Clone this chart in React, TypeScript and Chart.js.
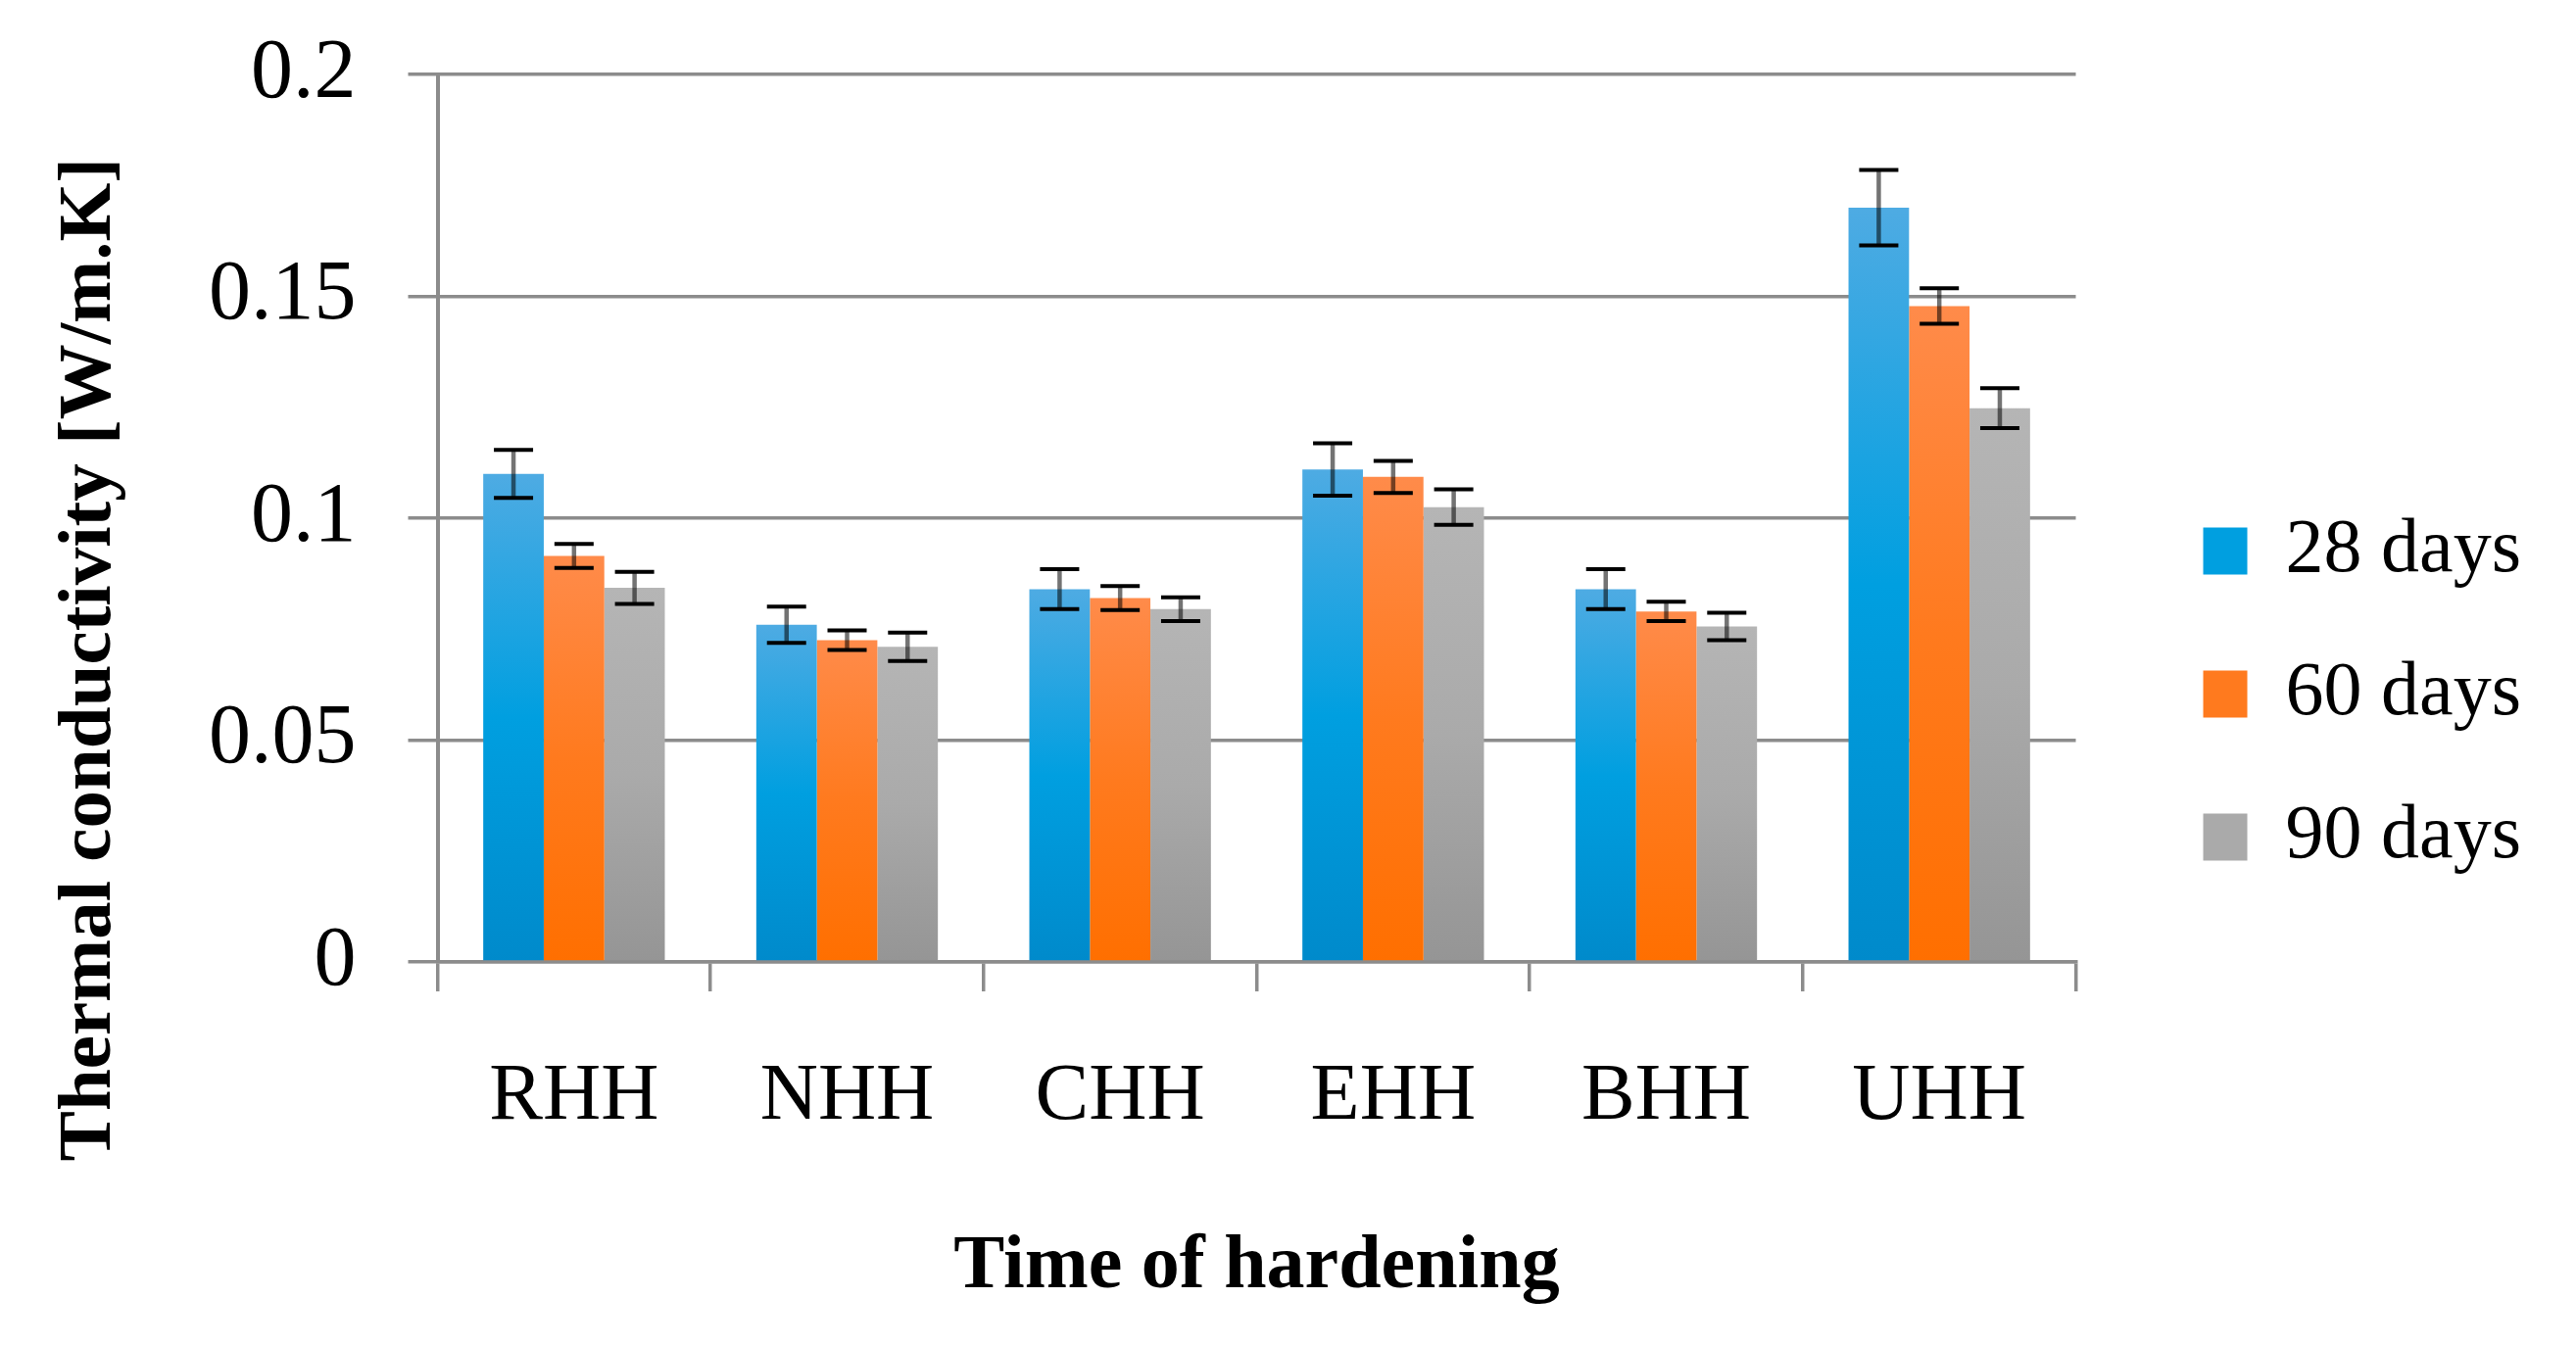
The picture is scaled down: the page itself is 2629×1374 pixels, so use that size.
import { useEffect, useRef } from "react"
import { Chart, registerables } from "chart.js"

Chart.register(...registerables)

const categories = ["RHH", "NHH", "CHH", "EHH", "BHH", "UHH"]
const seriesNames = ["28 days", "60 days", "90 days"]

// mean values [W/m.K]
const days28 = [0.11, 0.076, 0.084, 0.111, 0.084, 0.17]
const days60 = [0.0915, 0.0725, 0.082, 0.1093, 0.079, 0.1478]
const days90 = [0.0843, 0.071, 0.0795, 0.1025, 0.0756, 0.1248]

// +/- error
const err28 = [0.0054, 0.0041, 0.0045, 0.0059, 0.0045, 0.0085]
const err60 = [0.0027, 0.0022, 0.0027, 0.0036, 0.0022, 0.004]
const err90 = [0.0036, 0.0032, 0.0027, 0.004, 0.0031, 0.0045]

const yTicks = [0, 0.05, 0.1, 0.15, 0.2]

const X_TITLE = "Time of hardening"
const Y_TITLE = "Thermal conductivity [W/m.K]"

const FONT = "'Liberation Serif', 'Times New Roman', serif"
const GRID = "#8c8c8c"

const blueStops: [number, string][] = [[0, "#4eabe3"], [0.5, "#009fe0"], [1, "#008acb"]]
const orangeStops: [number, string][] = [[0, "#ff8b4a"], [0.5, "#ff7a1e"], [1, "#ff6f00"]]
const grayStops: [number, string][] = [[0, "#b5b5b5"], [0.5, "#aaaaaa"], [1, "#959595"]]

// vertical gradient per bar, from its top down to the baseline
const barFill = (stops: [number, string][]) => (c: any) => {
  const chart = c.chart
  const y = chart.scales?.y
  if (c.type !== "data" || !y || !chart.chartArea || typeof c.raw !== "number") return stops[1][1]
  const top = y.getPixelForValue(c.raw)
  const base = y.getPixelForValue(0)
  if (!isFinite(top) || !isFinite(base) || top === base) return stops[1][1]
  const g = chart.ctx.createLinearGradient(0, top, 0, base)
  stops.forEach(([o, col]) => g.addColorStop(o, col))
  return g
}

const errors = [err28, err60, err90]

const errorBars = {
  id: "errorBars",
  afterDatasetsDraw(chart: any) {
    const { ctx } = chart
    const y = chart.scales.y
    chart.data.datasets.forEach((ds: any, i: number) => {
      const meta = chart.getDatasetMeta(i)
      meta.data.forEach((bar: any, j: number) => {
        const v = ds.data[j]
        const e = errors[i][j]
        const hi = y.getPixelForValue(v + e)
        const lo = y.getPixelForValue(v - e)
        ctx.save()
        ctx.lineWidth = 4.5
        ctx.strokeStyle = "rgba(0, 0, 0, 0.55)"
        ctx.beginPath()
        ctx.moveTo(bar.x, hi)
        ctx.lineTo(bar.x, lo)
        ctx.stroke()
        ctx.lineWidth = 4
        ctx.strokeStyle = "#000"
        ctx.beginPath()
        ctx.moveTo(bar.x - 20, hi)
        ctx.lineTo(bar.x + 20, hi)
        ctx.moveTo(bar.x - 20, lo)
        ctx.lineTo(bar.x + 20, lo)
        ctx.stroke()
        ctx.restore()
      })
    })
  },
}

// y title sits lower than the plot centre in the original
const yTitle = {
  id: "yTitle",
  afterDraw(chart: any) {
    const { ctx } = chart
    ctx.save()
    ctx.translate(92, chart.height * 0.49)
    ctx.rotate(-Math.PI / 2)
    ctx.font = `bold 77px ${FONT}`
    ctx.fillStyle = "#000"
    ctx.textAlign = "center"
    ctx.textBaseline = "middle"
    ctx.fillText(Y_TITLE, 0, 0)
    ctx.restore()
  },
}

function ConductivityChart() {
  const chartRef = useRef<HTMLCanvasElement>(null)
  const chartInstance = useRef<Chart | null>(null)

  useEffect(() => {
    if (!chartRef.current) return
    if (chartInstance.current) chartInstance.current.destroy()

    const solid = [blueStops[1][1], orangeStops[1][1], grayStops[1][1]]

    chartInstance.current = new Chart(chartRef.current, {
      type: "bar",
      data: {
        labels: categories,
        datasets: [
          { label: seriesNames[0], data: days28, backgroundColor: barFill(blueStops) },
          { label: seriesNames[1], data: days60, backgroundColor: barFill(orangeStops) },
          { label: seriesNames[2], data: days90, backgroundColor: barFill(grayStops) },
        ],
      },
      options: {
        animation: false,
        responsive: true,
        maintainAspectRatio: false,
        devicePixelRatio: 1,
        layout: { padding: { left: 160, top: 76, right: 46, bottom: 33 } },
        datasets: {
          bar: { categoryPercentage: 0.665, barPercentage: 1, borderWidth: 0 },
        },
        scales: {
          x: {
            offset: true,
            grid: {
              offset: true,
              drawOnChartArea: false,
              drawTicks: true,
              tickLength: 30,
              color: GRID,
              lineWidth: 3.5,
            },
            border: { display: true, color: GRID, width: 3.5 },
            ticks: {
              color: "#000",
              font: { family: FONT, size: 82 },
              padding: 59,
              maxRotation: 0,
              autoSkip: false,
            },
            title: {
              display: true,
              text: X_TITLE,
              color: "#000",
              font: { family: FONT, size: 78, weight: "bold" },
              padding: { top: 19, bottom: 0 },
            },
          },
          y: {
            min: 0,
            max: 0.2,
            afterBuildTicks: (s: any) => {
              s.ticks = yTicks.map((v) => ({ value: v }))
            },
            grid: { color: GRID, lineWidth: 3.5, tickLength: 30, drawTicks: true },
            border: { display: true, color: GRID, width: 4 },
            ticks: {
              color: "#000",
              font: { family: FONT, size: 86, lineHeight: 0.5 },
              padding: 53,
              callback: (v: any) => String(Number(Number(v).toFixed(2))),
            },
          },
          gap: {
            type: "linear",
            position: "right",
            display: true,
            grid: { display: false },
            border: { display: false },
            ticks: { display: false },
            afterFit: (s: any) => {
              s.width = 62
            },
          },
        },
        plugins: {
          legend: {
            position: "right",
            labels: {
              color: "#000",
              font: { family: FONT, size: 78 },
              boxWidth: 45,
              boxHeight: 48,
              padding: 68,
              generateLabels: (chart: any) =>
                Chart.defaults.plugins.legend.labels
                  .generateLabels(chart)
                  .map((item: any, i: number) => ({ ...item, fillStyle: solid[i], lineWidth: 0, strokeStyle: "transparent" })),
            },
          },
          tooltip: { enabled: false },
        },
      } as any,
      plugins: [errorBars, yTitle],
    })

    return () => {
      if (chartInstance.current) {
        chartInstance.current.destroy()
        chartInstance.current = null
      }
    }
  }, [])

  return (
    <div style={{ position: "absolute", left: 0, top: 0, width: 2629, height: 1374, background: "#fff" }}>
      <canvas ref={chartRef} />
    </div>
  )
}

export default function App() {
  return <ConductivityChart />
}
